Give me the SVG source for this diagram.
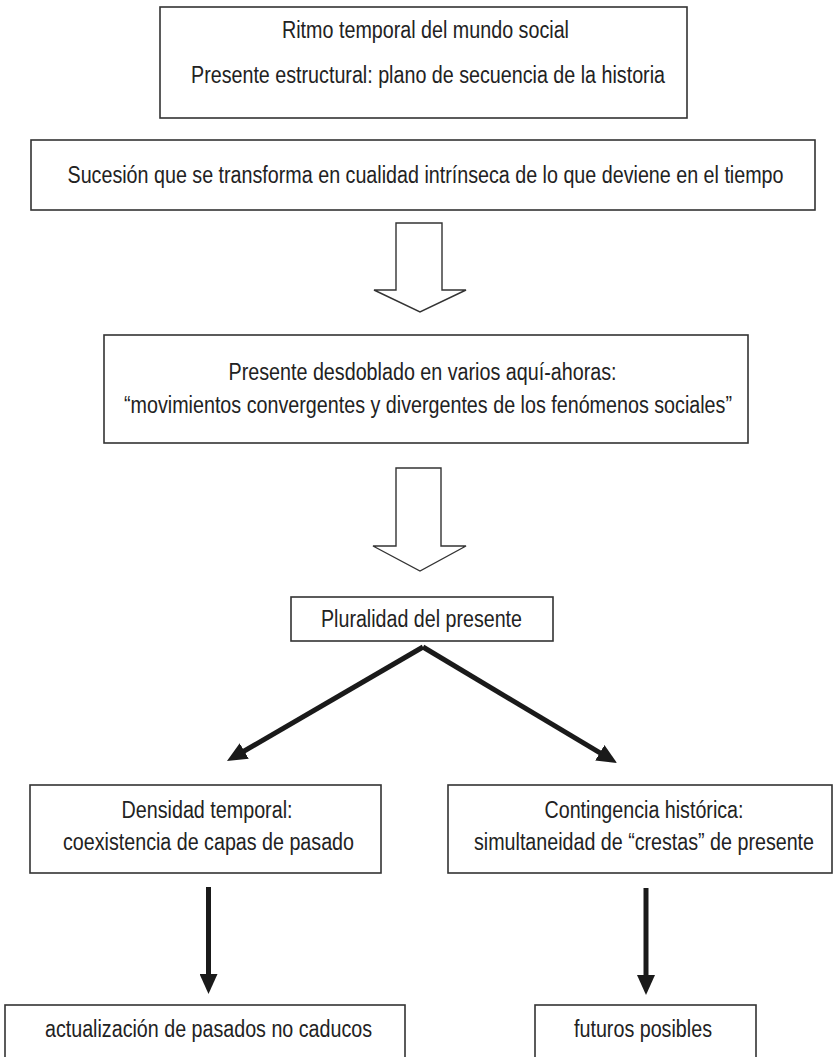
<svg xmlns="http://www.w3.org/2000/svg" width="834" height="1057" viewBox="0 0 834 1057">
<defs>
<style>
.box{fill:#fff;stroke:#333;stroke-width:1.6}
.t{font-family:"Liberation Sans Narrow","Liberation Sans",Arial,sans-serif;font-size:23px;fill:#222;text-anchor:middle}
.hollow{fill:#fff;stroke:#333;stroke-width:1.4;stroke-linejoin:miter}
.solid{fill:none;stroke:#1a1a1a;stroke-width:5}
</style>
<marker id="head" markerUnits="userSpaceOnUse" markerWidth="20" markerHeight="18" refX="10" refY="9" orient="auto">
<path d="M0,0 L20,9 L0,18 z" fill="#1a1a1a"/>
</marker>
</defs>
<rect width="834" height="1057" fill="#fff"/>
<g id="node-ritmo">
<rect class="box" x="160" y="7" width="527" height="111"/>
<text class="t" x="425.5" y="38" textLength="287" lengthAdjust="spacingAndGlyphs">Ritmo temporal del mundo social</text>
<text class="t" x="428" y="83" textLength="474" lengthAdjust="spacingAndGlyphs">Presente estructural: plano de secuencia de la historia</text>
</g>
<g id="node-sucesion">
<rect class="box" x="31" y="140" width="784" height="70"/>
<text class="t" x="425.5" y="183" textLength="716" lengthAdjust="spacingAndGlyphs">Sucesión que se transforma en cualidad intrínseca de lo que deviene en el tiempo</text>
</g>
<g id="node-desdoblado">
<rect class="box" x="104" y="335" width="644" height="108"/>
<text class="t" x="422.5" y="380" textLength="388" lengthAdjust="spacingAndGlyphs">Presente desdoblado en varios aquí-ahoras:</text>
<text class="t" x="428" y="413" textLength="608" lengthAdjust="spacingAndGlyphs">“movimientos convergentes y divergentes de los fenómenos sociales”</text>
</g>
<g id="node-pluralidad">
<rect class="box" x="291" y="597" width="262" height="44"/>
<text class="t" x="421.5" y="627" textLength="201" lengthAdjust="spacingAndGlyphs">Pluralidad del presente</text>
</g>
<g id="node-densidad">
<rect class="box" x="30" y="785" width="351" height="88"/>
<text class="t" x="207" y="818" textLength="171" lengthAdjust="spacingAndGlyphs">Densidad temporal:</text>
<text class="t" x="208.5" y="850" textLength="291" lengthAdjust="spacingAndGlyphs">coexistencia de capas de pasado</text>
</g>
<g id="node-contingencia">
<rect class="box" x="448" y="785" width="384" height="88"/>
<text class="t" x="644" y="818" textLength="199" lengthAdjust="spacingAndGlyphs">Contingencia histórica:</text>
<text class="t" x="644" y="850" textLength="340" lengthAdjust="spacingAndGlyphs">simultaneidad de “crestas” de presente</text>
</g>
<g id="node-actualizacion">
<rect class="box" x="5" y="1005" width="400" height="70"/>
<text class="t" x="208.5" y="1037" textLength="327" lengthAdjust="spacingAndGlyphs">actualización de pasados no caducos</text>
</g>
<g id="node-futuros">
<rect class="box" x="535" y="1005" width="221" height="70"/>
<text class="t" x="643" y="1037" textLength="138" lengthAdjust="spacingAndGlyphs">futuros posibles</text>
</g>
<g id="connectors">
<polygon class="hollow" points="396,223 442,223 442,290 466,290 420,312 374,290 396,290"/>
<polygon class="hollow" points="396,468 441,468 441,546 466,546 420,571 373,546 396,546"/>
<line class="solid" x1="423" y1="647" x2="235.6" y2="756" marker-end="url(#head)"/>
<line class="solid" x1="423" y1="647" x2="608.4" y2="757.9" marker-end="url(#head)"/>
<line class="solid" x1="208.5" y1="887" x2="208.5" y2="984" marker-end="url(#head)"/>
<line class="solid" x1="646" y1="888" x2="646" y2="985" marker-end="url(#head)"/>
</g>
</svg>
